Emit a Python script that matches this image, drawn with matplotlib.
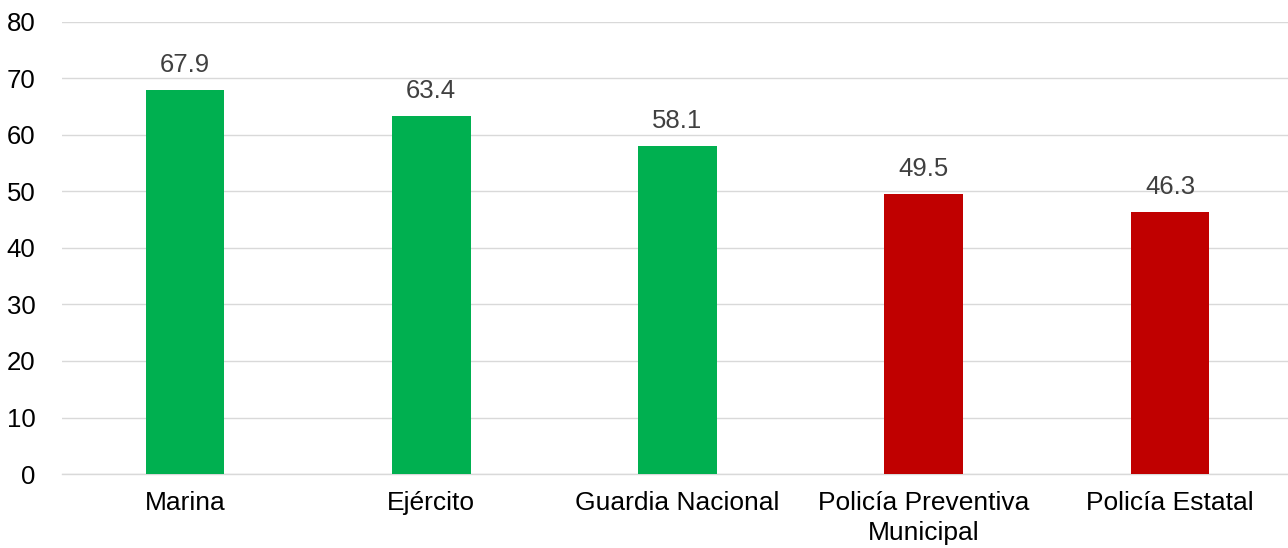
import matplotlib.pyplot as plt
import numpy as np

plt.rcParams['font.family'] = ['Liberation Sans', 'DejaVu Sans']

categories = ["Marina", "Ejército", "Guardia Nacional", "Policía Preventiva\nMunicipal", "Policía Estatal"]
values = [67.9, 63.4, 58.1, 49.5, 46.3]
colors = ["#00B050", "#00B050", "#00B050", "#C00000", "#C00000"]

fig = plt.figure(figsize=(12.88, 5.48), dpi=100)
ax = fig.add_axes([0.048, 0.135, 0.956, 0.825])

x = np.arange(len(categories))
bars = ax.bar(x, values, width=0.32, color=colors, zorder=3)

for xi, v in zip(x, values):
    ax.text(xi, v + 2.3, f"{v:.1f}", ha="center", va="bottom", fontsize=18.5, color="#404040")

ax.set_xlim(-0.5, len(categories) - 0.5)
ax.set_ylim(0, 80)
ax.set_yticks(range(0, 81, 10))
ax.set_xticks(x)
ax.set_xticklabels(categories, fontsize=19, color="black", linespacing=1.35)
ax.tick_params(axis="y", labelsize=18.5, length=0, pad=19)
ax.tick_params(axis="x", length=0, pad=12)
ax.grid(axis="y", color="#D9D9D9", linewidth=1, zorder=0)

for s in ["top", "right", "left"]:
    ax.spines[s].set_visible(False)
ax.spines["bottom"].set_color("#D9D9D9")
ax.spines["bottom"].set_linewidth(1)

plt.savefig("out.png", dpi=100)
plt.close()
